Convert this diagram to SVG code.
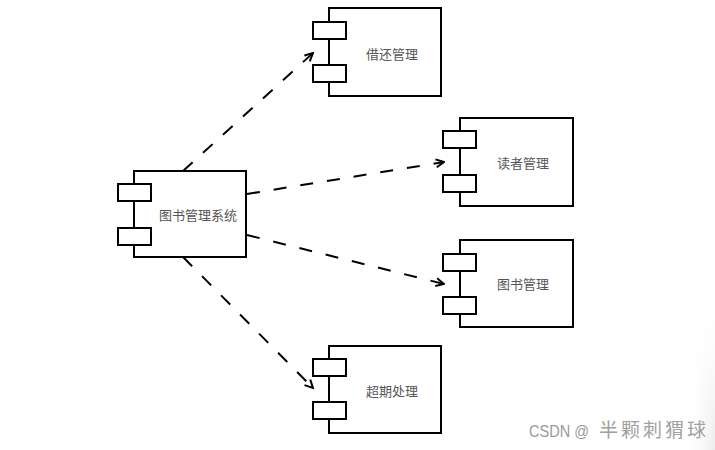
<svg xmlns="http://www.w3.org/2000/svg" width="715" height="450" viewBox="0 0 715 450">
<defs>
<marker id="arrow" viewBox="0 0 10 10" refX="9" refY="5" markerWidth="10" markerHeight="10" markerUnits="userSpaceOnUse" orient="auto">
<path d="M1,1 L9,5 L1,9" fill="none" stroke="#000" stroke-width="2"/>
</marker>
<radialGradient id="edge" cx="1" cy="1" r="1">
<stop offset="0" stop-color="#ececec" stop-opacity="1"/>
<stop offset="1" stop-color="#ffffff" stop-opacity="0"/>
</radialGradient>
</defs>
<style>
.box{fill:#fff;stroke:#000;stroke-width:2}
.port{fill:#fff;stroke:#000;stroke-width:2}
.lbl{font-family:"Noto Sans CJK SC","Liberation Sans",sans-serif;font-size:13px;fill:#555;text-anchor:middle;dominant-baseline:central}
.conn{fill:none;stroke:#000;stroke-width:2;stroke-dasharray:13 14;marker-end:url(#arrow)}
.wm{font-family:"Liberation Sans","Noto Sans CJK SC",sans-serif;fill:#999}
</style>
<rect width="715" height="450" fill="#fff"/>
<rect x="685" y="280" width="30" height="170" fill="url(#edge)"/>
<g id="connectors">
<path class="conn" d="M183,171 L313,53"/>
<path class="conn" d="M247,194 L444,162"/>
<path class="conn" d="M247,235 L444,284"/>
<path class="conn" d="M183,257 L313,388"/>
</g>
<g id="n-main">
<rect class="box" x="134" y="171" width="112" height="86"/>
<rect class="port" x="118" y="184" width="33" height="17"/>
<rect class="port" x="118" y="228" width="33" height="17"/>
<text class="lbl" x="198" y="214">图书管理系统</text>
</g>
<g id="n-borrow">
<rect class="box" x="329" y="8" width="112" height="88"/>
<rect class="port" x="313" y="22" width="33" height="17"/>
<rect class="port" x="313" y="65" width="33" height="17"/>
<text class="lbl" x="392" y="53">借还管理</text>
</g>
<g id="n-reader">
<rect class="box" x="460" y="118" width="113" height="88"/>
<rect class="port" x="443" y="131" width="33" height="17"/>
<rect class="port" x="443" y="175" width="33" height="17"/>
<text class="lbl" x="523" y="162">读者管理</text>
</g>
<g id="n-book">
<rect class="box" x="460" y="240" width="113" height="87"/>
<rect class="port" x="443" y="254" width="33" height="17"/>
<rect class="port" x="443" y="297" width="33" height="17"/>
<text class="lbl" x="523" y="283">图书管理</text>
</g>
<g id="n-overdue">
<rect class="box" x="329" y="346" width="112" height="87"/>
<rect class="port" x="313" y="359" width="33" height="17"/>
<rect class="port" x="313" y="402" width="33" height="17"/>
<text class="lbl" x="392" y="390">超期处理</text>
</g>
<text class="wm" x="529" y="437" font-size="17"><tspan textLength="60" lengthAdjust="spacingAndGlyphs">CSDN @</tspan><tspan dx="10" font-size="19" letter-spacing="3" fill="#a0a0a0">半颗刺猬球</tspan></text>
</svg>
